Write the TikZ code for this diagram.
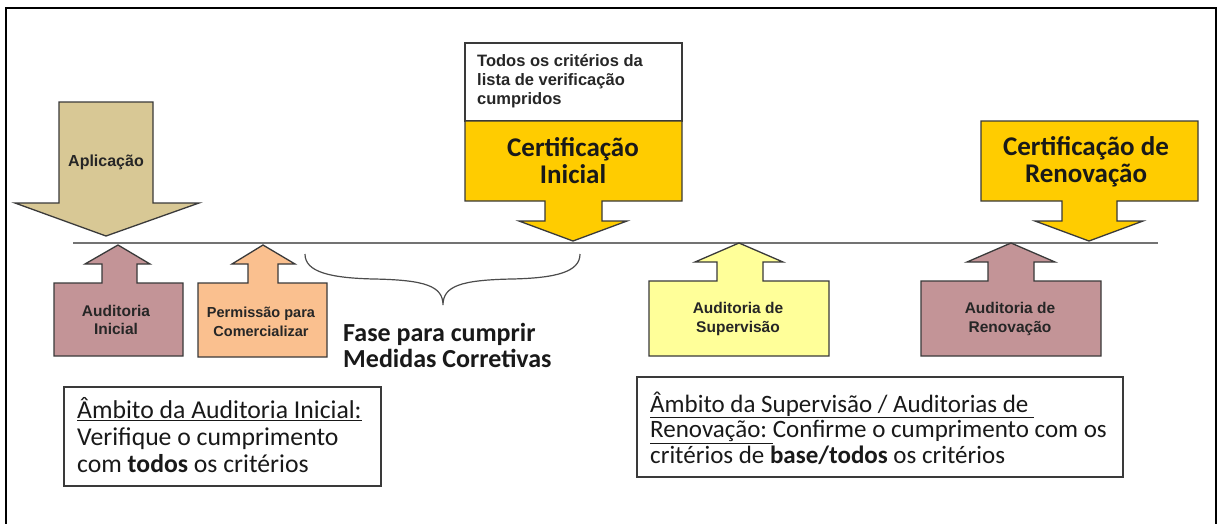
\documentclass[tikz,border=0pt]{standalone}
\usepackage{fontspec}
\setmainfont{Carlito}
\newfontfamily\arialf{Liberation Sans}
\definecolor{tanc}{HTML}{D8C895}
\definecolor{rosec}{HTML}{C39497}
\definecolor{peachc}{HTML}{FAC08F}
\definecolor{lyelc}{HTML}{FFFF99}
\definecolor{goldc}{HTML}{FFCC00}
\definecolor{edgec}{HTML}{3A3A3A}
\begin{document}
\begin{tikzpicture}[x=1pt,y=-1pt,
  arrowshape/.style={draw=edgec, line width=1.3pt, line join=miter},
  smalllbl/.style={font=\arialf\bfseries\fontsize{15.5}{18.5}\selectfont, align=center, text=black!85, inner sep=0pt},
  biglbl/.style={font=\bfseries\fontsize{27}{27}\selectfont, align=center, text=black!90, inner sep=0pt},
  bodytxt/.style={font=\fontsize{25}{26.5}\selectfont, align=left, text=black!90, inner sep=0pt, anchor=west},
  frame/.style={draw=edgec, line width=1.3pt}]
\useasboundingbox (0,0) rectangle (1219,523);
\fill[white] (0,0) rectangle (1219,523);
\draw[line width=1.6pt] (6,530) -- (6,8) -- (1216,8) -- (1216,530);

% Aplicacao arrow (down)
\draw[arrowshape, fill=tanc] (59,102) -- (153,102) -- (153,203) -- (199,203) -- (106,236) -- (15,203) -- (59,203) -- cycle;
\node[smalllbl, font=\arialf\bfseries\fontsize{16}{19}\selectfont] (apl) at (106,162) {Aplicação};

% Certificacao Inicial
\draw[arrowshape, fill=white] (465,43) rectangle (682,121);
\node[smalllbl, font=\arialf\bfseries\fontsize{16.5}{18.7}\selectfont, align=left, anchor=west] (todos) at (477,81) {Todos os critérios da\\lista de verificação\\cumpridos};
\draw[arrowshape, fill=goldc] (465,121) -- (682,121) -- (682,201) -- (602,201) -- (602,221) -- (627,221) -- (573,241) -- (519,221) -- (545,221) -- (545,201) -- (465,201) -- cycle;
\node[biglbl] (certini) at (573,161) {Certificação\\Inicial};

% Certificacao de Renovacao
\draw[arrowshape, fill=goldc] (981,121) -- (1198,121) -- (1198,201) -- (1117,201) -- (1117,221) -- (1143,221) -- (1089,241) -- (1035,221) -- (1062,221) -- (1062,201) -- (981,201) -- cycle;
\node[biglbl] (certren) at (1086,162) {Certificação de\\Renovação};

% timeline
\coordinate (tl0) at (73,243);
\coordinate (tl1) at (1158,243);
\draw[draw=black!55, line width=1.8pt] (tl0) -- (tl1);

% Auditoria Inicial (up)
\draw[arrowshape, fill=rosec] (54,356) -- (183,356) -- (183,283) -- (137,283) -- (137,264) -- (150,264) -- (118,245) -- (85,264) -- (102,264) -- (102,283) -- (54,283) -- cycle;
\node[smalllbl] (audini) at (116,320) {Auditoria\\Inicial};

% Permissao
\draw[arrowshape, fill=peachc] (198,357) -- (327,357) -- (327,283) -- (278,283) -- (278,264) -- (295,264) -- (263,245) -- (232,264) -- (248,264) -- (248,283) -- (198,283) -- cycle;
\node[smalllbl, font=\arialf\bfseries\fontsize{14.5}{18.5}\selectfont] (perm) at (261,322) {Permissão para\\Comercializar};

% Supervisao
\draw[arrowshape, fill=lyelc] (649,356) -- (829,356) -- (829,281) -- (763,281) -- (763,262) -- (783,262) -- (739,243) -- (695,262) -- (717,262) -- (717,281) -- (649,281) -- cycle;
\node[smalllbl] (audsup) at (738,319) {Auditoria de\\Supervisão};

% Renovacao
\draw[arrowshape, fill=rosec] (921,356) -- (1101,356) -- (1101,281) -- (1034,281) -- (1034,262) -- (1055,262) -- (1011,243) -- (967,262) -- (988,262) -- (988,281) -- (921,281) -- cycle;
\node[smalllbl] (audren) at (1010,319) {Auditoria de\\Renovação};

% brace
\coordinate (brL) at (305,254);
\coordinate (brM) at (443,305);
\coordinate (brR) at (580,254);
\draw[draw=black!70, line width=1.2pt] (brL) .. controls (305,272) and (330,278) .. (374,279) .. controls (425,280) and (443,286) .. (brM)
  .. controls (443,286) and (461,280) .. (512,279) .. controls (556,278) and (580,272) .. (brR);
\node[bodytxt, font=\bfseries\fontsize{26}{26}\selectfont] (fase) at (343,345) {Fase para cumprir\\Medidas Corretivas};

% scope box 1
\draw[frame] (64,387) rectangle (381,486);
\node[bodytxt, font=\fontsize{25.7}{27}\selectfont] (scope1) at (77,435) {\underline{Âmbito da Auditoria Inicial:}\\Verifique o cumprimento\\com \textbf{todos} os critérios};

% scope box 2
\draw[frame] (637,377) rectangle (1123,477);
\node[bodytxt, font=\fontsize{25}{25.5}\selectfont] (scope2) at (650,428) {\underline{Âmbito da Supervisão / Auditorias de\ }\\\underline{Renovação:\ }Confirme o cumprimento com os\\critérios de \textbf{base/todos} os critérios};
\end{tikzpicture}
\end{document}
